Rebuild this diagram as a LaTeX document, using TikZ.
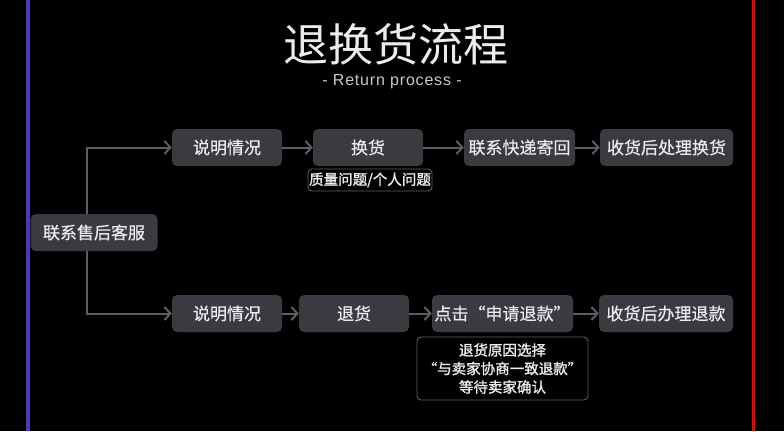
\documentclass[tikz,border=0pt]{standalone}
\usepackage{fontspec}
\setmainfont{Liberation Sans}
\newfontfamily\cjk[FakeBold=0.4]{Noto Sans CJK SC}
\newfontfamily\cjkt{Noto Sans CJK SC}
\newfontfamily\cjkb[FakeBold=1.4]{Noto Sans CJK SC}
\newfontfamily\subfont[LetterSpace=5]{Liberation Sans}
\usetikzlibrary{arrows.meta}
\definecolor{boxc}{HTML}{3B3A40}
\definecolor{linec}{HTML}{5E5E60}
\definecolor{txtc}{HTML}{ECECEC}
\definecolor{purp}{HTML}{5236B8}
\definecolor{redl}{HTML}{F00000}
\begin{document}
\begin{tikzpicture}[x=1pt,y=-1pt,
  box/.style={fill=boxc, rounded corners=5pt, text=txtc, inner sep=0pt,
    font=\cjk\fontsize{17}{20}\selectfont, minimum height=37pt},
  note/.style={fill=black, draw=linec, line width=0.9pt, rounded corners=4pt,
    text=txtc, inner sep=0pt, align=center,
    font=\cjkb\fontsize{14.5}{18.5}\selectfont},
  conn/.style={draw=linec, line width=2pt, -{Straight Barb[length=6pt,width=13pt,line width=2pt]}}
]
\fill[black] (0,0) rectangle (784,431);
\useasboundingbox (0,0) rectangle (784,431);
\fill[purp] (26,0) rectangle (29.5,431);
\fill[redl] (752,0) rectangle (755,431);

\node[text=txtc, font=\cjkt\fontsize{45}{48}\selectfont] (title) at (396,44) {退换货流程};
\node[text=txtc!85!black, font=\subfont\fontsize{16}{20}\selectfont] (sub) at (392,82) {- Return process -};

\node[box, minimum width=127pt] (kf) at (94,232.5) {联系售后客服};
\node[box, minimum width=110pt] (s1) at (227,147.5) {说明情况};
\node[box, minimum width=110pt] (hh) at (368,147.5) {换货};
\node[box, minimum width=111pt] (kd) at (519.5,147.5) {联系快递寄回};
\node[box, minimum width=133pt] (sh1) at (666.5,147.5) {收货后处理换货};
\node[box, minimum width=110pt] (s2) at (227,313.5) {说明情况};
\node[box, minimum width=110pt] (th) at (354,313.5) {退货};
\node[box, minimum width=141pt] (dj) at (502.5,313.5) {点击“申请退款”};
\node[box, minimum width=134pt] (sh2) at (666,313.5) {收货后办理退款};

\node[note, minimum width=124pt, minimum height=22pt] (lbl) at (370,180) {质量问题/个人问题};
\node[note, minimum width=171pt, minimum height=63pt] (nt) at (502.5,368.5) {退货原因选择\\“与卖家协商一致退款”\\等待卖家确认};

\draw[conn] ([xshift=-7pt]kf.north) |- (s1.west);
\draw[conn] ([xshift=-7pt]kf.south) |- (s2.west);
\draw[conn] (s1) -- (hh);
\draw[conn] (hh) -- (kd);
\draw[conn] (kd) -- (sh1);
\draw[conn] (s2) -- (th);
\draw[conn] (th) -- (dj);
\draw[conn] (dj) -- (sh2);
\end{tikzpicture}
\end{document}
